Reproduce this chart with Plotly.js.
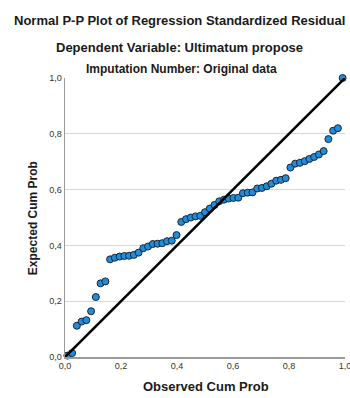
<!DOCTYPE html>
<html>
<head>
<meta charset="utf-8">
<script src="https://cdn.plot.ly/plotly-3.0.1.min.js"></script>
<style>
  html, body { margin: 0; padding: 0; background: #ffffff; }
  #chart { width: 350px; height: 398px; }
</style>
</head>
<body>
<div id="chart"></div>
<script>
// Expected cumulative probability of each standardized residual, sorted ascending
const expectedCumProb = [
  0.005, 0.014, 0.112, 0.127, 0.132, 0.164, 0.215, 0.264, 0.271, 0.350,
  0.356, 0.360, 0.362, 0.363, 0.366, 0.374, 0.390, 0.396, 0.405, 0.406,
  0.408, 0.415, 0.417, 0.437, 0.484, 0.494, 0.500, 0.504, 0.506, 0.519,
  0.532, 0.545, 0.558, 0.564, 0.568, 0.570, 0.571, 0.587, 0.589, 0.590,
  0.604, 0.606, 0.612, 0.621, 0.632, 0.635, 0.641, 0.679, 0.693, 0.696,
  0.702, 0.710, 0.717, 0.726, 0.738, 0.781, 0.811, 0.820, 0.9999
];
// Observed cumulative probability: rank-based plotting position (i - 0.5) / n
const n = expectedCumProb.length;
const observedCumProb = expectedCumProb.map((_, i) => (i + 0.5) / n);

// Reference diagonal
const diagX = [0, 1];
const diagY = [0, 1];

const tickVals = [0, 0.2, 0.4, 0.6, 0.8, 1.0];
const tickText = ['0,0', '0,2', '0,4', '0,6', '0,8', '1,0'];

const FONT = 'Liberation Sans, Arial, sans-serif';

const traces = [
  {
    type: 'scatter', mode: 'markers',
    x: observedCumProb, y: expectedCumProb,
    cliponaxis: false,
    marker: { size: 7, color: '#1f8ddb', line: { color: '#1a2533', width: 1 } },
    hoverinfo: 'x+y'
  },
  {
    type: 'scatter', mode: 'lines',
    x: diagX, y: diagY,
    cliponaxis: false,
    line: { color: '#000000', width: 2.6 },
    hoverinfo: 'skip'
  }
];

const layout = {
  width: 350, height: 398,
  margin: { l: 65, r: 5, t: 77.5, b: 40.5 },
  paper_bgcolor: '#ffffff', plot_bgcolor: '#ffffff',
  showlegend: false,
  font: { family: FONT, size: 9, color: '#333333' },
  xaxis: {
    range: [0, 1], tickvals: tickVals, ticktext: tickText,
    showgrid: false, zeroline: false,
    showline: true, linecolor: '#9a9a9a', linewidth: 1.5,
    ticks: '', ticklabeloverflow: 'allow',
    tickfont: { size: 9, color: '#333333' }
  },
  yaxis: {
    range: [0, 1], tickvals: tickVals, ticktext: tickText,
    showgrid: true, gridcolor: '#d8d8d8', gridwidth: 1, zeroline: false,
    showline: true, linecolor: '#9a9a9a', linewidth: 1.5,
    ticks: '', ticklabeloverflow: 'allow',
    tickfont: { size: 9, color: '#333333' }
  },
  annotations: [
    { text: '<b>Normal P-P Plot of Regression Standardized Residual</b>',
      xref: 'paper', yref: 'paper', x: 0.41, y: 1.205, xanchor: 'center', yanchor: 'middle',
      showarrow: false, font: { family: FONT, size: 13, color: '#1a1a1a' } },
    { text: '<b>Dependent Variable: Ultimatum propose</b>',
      xref: 'paper', yref: 'paper', x: 0.41, y: 1.109, xanchor: 'center', yanchor: 'middle',
      showarrow: false, font: { family: FONT, size: 13, color: '#1a1a1a' } },
    { text: '<b>Imputation Number: Original data</b>',
      xref: 'paper', yref: 'paper', x: 0.415, y: 1.034, xanchor: 'center', yanchor: 'middle',
      showarrow: false, font: { family: FONT, size: 12, color: '#1a1a1a' } },
    { text: '<b>Observed Cum Prob</b>',
      xref: 'paper', yref: 'paper', x: 0.504, y: -0.105, xanchor: 'center', yanchor: 'middle',
      showarrow: false, font: { family: FONT, size: 13, color: '#1a1a1a' } },
    { text: '<b>Expected Cum Prob</b>',
      xref: 'paper', yref: 'paper', x: -0.114, y: 0.498, xanchor: 'center', yanchor: 'middle',
      textangle: -90, showarrow: false, font: { family: FONT, size: 12, color: '#1a1a1a' } }
  ]
};

Plotly.newPlot('chart', traces, layout, { staticPlot: true, displayModeBar: false });
</script>
</body>
</html>
